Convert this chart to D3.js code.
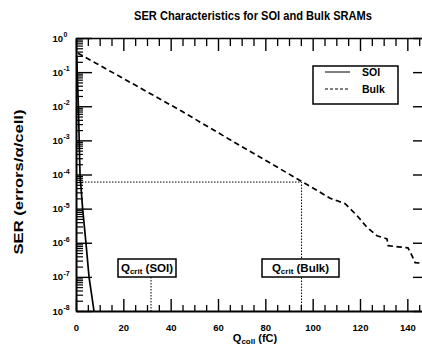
<!DOCTYPE html>
<html>
<head>
<meta charset="utf-8">
<script src="https://cdn.jsdelivr.net/npm/d3@7"></script>
<style>
  body { margin: 0; background: #fff; }
  svg { display: block; font-family: 'Liberation Sans', Arial, sans-serif; font-weight: bold; }
</style>
</head>
<body>
<svg id="chart" width="422" height="347"></svg>
<script>
// data
var soiQ = [0.3, 1.0, 1.7, 2.8, 4.2, 5.5, 7.6]
var soiSer = [0.3, 1e-2, 1e-4, 1e-5, 1e-6, 1e-7, 1e-8]

var bulkQ = [0.8, 20, 44, 70, 95.5, 101.9, 107.4, 113.7, 118.8, 123, 127.2, 131.4, 131.9, 136.1, 140.3, 142.4, 143.3, 147]
var bulkSer = [0.36, 0.065, 7.6e-3, 6.6e-4, 6.2e-5, 3.4e-5, 2.0e-5, 1.4e-5, 6.2e-6, 2.8e-6, 1.6e-6, 1.3e-6, 8.2e-7, 7.6e-7, 7.1e-7, 3.6e-7, 2.6e-7, 2.5e-7]

var xMajorTicks = [0, 20, 40, 60, 80, 100, 120, 140]
var yExponents = [0, -1, -2, -3, -4, -5, -6, -7, -8]

var qcritSoi = 31.7
var qcritBulk = 95.3
var serCritBulk = 6.0e-5

var svg = d3.select('#chart')

var x = d3.scaleLinear().domain([0, 150]).range([76, 431])
var y = d3.scaleLog().domain([1e-8, 1]).range([311, 38])

// title
svg.append('text')
  .attr('x', 253).attr('y', 20)
  .attr('text-anchor', 'middle')
  .attr('font-size', 12)
  .attr('textLength', 238)
  .attr('lengthAdjust', 'spacingAndGlyphs')
  .text('SER Characteristics for SOI and Bulk SRAMs')

// minor tick values
var xMinor = d3.range(0, 151, 5).filter(function (d) { return d % 20 != 0 })
var yMinor = []
yExponents.forEach(function (e) {
  if (e == 0) return
  for (var k = 2; k <= 9; k++) yMinor.push(k * Math.pow(10, e))
})
var yMajor = yExponents.map(function (e) { return Math.pow(10, e) })

// bottom axis
svg.append('g')
  .attr('transform', 'translate(0,311)')
  .call(d3.axisBottom(x).tickValues(xMajorTicks).tickSizeInner(-12).tickSizeOuter(0).tickPadding(13).tickFormat(d3.format('d')))
  .call(function (g) {
    g.select('.domain').attr('stroke-width', 2)
    g.selectAll('text').attr('font-size', 9.5).attr('font-family', null).attr('fill', '#000')
    g.selectAll('line').attr('stroke-width', 1.4)
  })
svg.append('g')
  .attr('transform', 'translate(0,311)')
  .call(d3.axisBottom(x).tickValues(xMinor).tickSizeInner(-6).tickSizeOuter(0).tickFormat(''))
  .call(function (g) {
    g.select('.domain').remove()
    g.selectAll('line').attr('stroke-width', 1.3)
  })

// top axis
svg.append('g')
  .attr('transform', 'translate(0,38)')
  .call(d3.axisTop(x).tickValues(xMajorTicks).tickSizeInner(-13).tickSizeOuter(0).tickFormat(''))
  .call(function (g) {
    g.select('.domain').attr('stroke-width', 1.6)
    g.selectAll('line').attr('stroke-width', 1.4)
  })
svg.append('g')
  .attr('transform', 'translate(0,38)')
  .call(d3.axisTop(x).tickValues(xMinor).tickSizeInner(-8).tickSizeOuter(0).tickFormat(''))
  .call(function (g) {
    g.select('.domain').remove()
    g.selectAll('line').attr('stroke-width', 1.3)
  })

// left axis
svg.append('g')
  .attr('transform', 'translate(76,0)')
  .call(d3.axisLeft(y).tickValues(yMajor).tickSizeInner(-16).tickSizeOuter(0).tickFormat(''))
  .call(function (g) {
    g.select('.domain').attr('stroke-width', 2)
    g.selectAll('line').attr('stroke-width', 1.4)
  })
svg.append('g')
  .attr('transform', 'translate(76,0)')
  .call(d3.axisLeft(y).tickValues(yMinor).tickSizeInner(-7).tickSizeOuter(0).tickFormat(''))
  .call(function (g) {
    g.select('.domain').remove()
    g.selectAll('line').attr('stroke-width', 1.2)
  })

// right axis (frame runs past the crop)
svg.append('g')
  .attr('transform', 'translate(431,0)')
  .call(d3.axisRight(y).tickValues(yMajor).tickSizeInner(-18).tickSizeOuter(0).tickFormat(''))
  .call(function (g) {
    g.select('.domain').attr('stroke-width', 1.6)
    g.selectAll('line').attr('stroke-width', 1.4)
  })

// y tick labels 10^n
svg.append('g').selectAll('text').data(yExponents).enter()
  .append('text')
  .attr('x', 63)
  .attr('y', function (e) { return y(Math.pow(10, e)) + 3.5 })
  .attr('text-anchor', 'end')
  .attr('font-size', 9.5)
  .text('10')
svg.append('g').selectAll('text').data(yExponents).enter()
  .append('text')
  .attr('x', 63.5)
  .attr('y', function (e) { return y(Math.pow(10, e)) - 1 })
  .attr('font-size', 7)
  .text(function (e) { return e })

// axis titles
svg.append('text')
  .attr('transform', 'translate(23,182) rotate(-90)')
  .attr('text-anchor', 'middle')
  .attr('font-size', 13)
  .attr('textLength', 145)
  .attr('lengthAdjust', 'spacingAndGlyphs')
  .text('SER (errors/α/cell)')

var xt = svg.append('text')
  .attr('x', 255).attr('y', 342)
  .attr('text-anchor', 'middle')
  .attr('font-size', 11)
xt.append('tspan').text('Q')
xt.append('tspan').attr('font-size', 8).attr('dy', 2).text('coll')
xt.append('tspan').attr('dy', -2).text(' (fC)')

// critical charge guides
var dotted = '1.5,1.5'
svg.append('path')
  .attr('d', d3.line()([[x(0), y(serCritBulk)], [x(qcritBulk), y(serCritBulk)], [x(qcritBulk), y(1e-8)]]))
  .attr('fill', 'none').attr('stroke', '#000').attr('stroke-width', 1).attr('stroke-dasharray', dotted)
svg.append('line')
  .attr('x1', x(qcritSoi)).attr('x2', x(qcritSoi))
  .attr('y1', 277).attr('y2', y(1e-8))
  .attr('stroke', '#000').attr('stroke-width', 1).attr('stroke-dasharray', dotted)

// label boxes
function qBox(cx, label, w) {
  var g = svg.append('g')
  g.append('rect')
    .attr('x', cx - w / 2).attr('y', 259).attr('width', w).attr('height', 18)
    .attr('fill', '#fff').attr('stroke', '#000').attr('stroke-width', 1.5)
  var t = g.append('text').attr('x', cx).attr('y', 271.5).attr('text-anchor', 'middle').attr('font-size', 11.5)
  t.append('tspan').text('Q')
  t.append('tspan').attr('font-size', 8).attr('dy', 2).text('crit')
  t.append('tspan').attr('dy', -2).text(' ' + label)
}
qBox(147, '(SOI)', 58)
qBox(300.5, '(Bulk)', 77)

// series
var line = d3.line()
  .x(function (d) { return x(d[0]) })
  .y(function (d) { return y(d[1]) })

svg.append('path')
  .datum(d3.zip(soiQ, soiSer))
  .attr('d', line)
  .attr('fill', 'none').attr('stroke', '#000').attr('stroke-width', 1.7)

svg.append('path')
  .datum(d3.zip(bulkQ, bulkSer))
  .attr('d', line)
  .attr('fill', 'none').attr('stroke', '#000').attr('stroke-width', 1.7)
  .attr('stroke-dasharray', '5.5,3.5')

// legend
var lg = svg.append('g')
lg.append('rect')
  .attr('x', 313).attr('y', 66).attr('width', 85).attr('height', 38)
  .attr('fill', '#fff').attr('stroke', '#000').attr('stroke-width', 1.5)
lg.append('line').attr('x1', 325).attr('x2', 350).attr('y1', 72).attr('y2', 72)
  .attr('stroke', '#000').attr('stroke-width', 1)
lg.append('line').attr('x1', 325).attr('x2', 350).attr('y1', 89).attr('y2', 89)
  .attr('stroke', '#000').attr('stroke-width', 1).attr('stroke-dasharray', '3,2')
lg.append('text').attr('x', 362).attr('y', 76).attr('font-size', 10.5).text('SOI')
lg.append('text').attr('x', 362).attr('y', 93).attr('font-size', 10.5).text('Bulk')
</script>
</body>
</html>
